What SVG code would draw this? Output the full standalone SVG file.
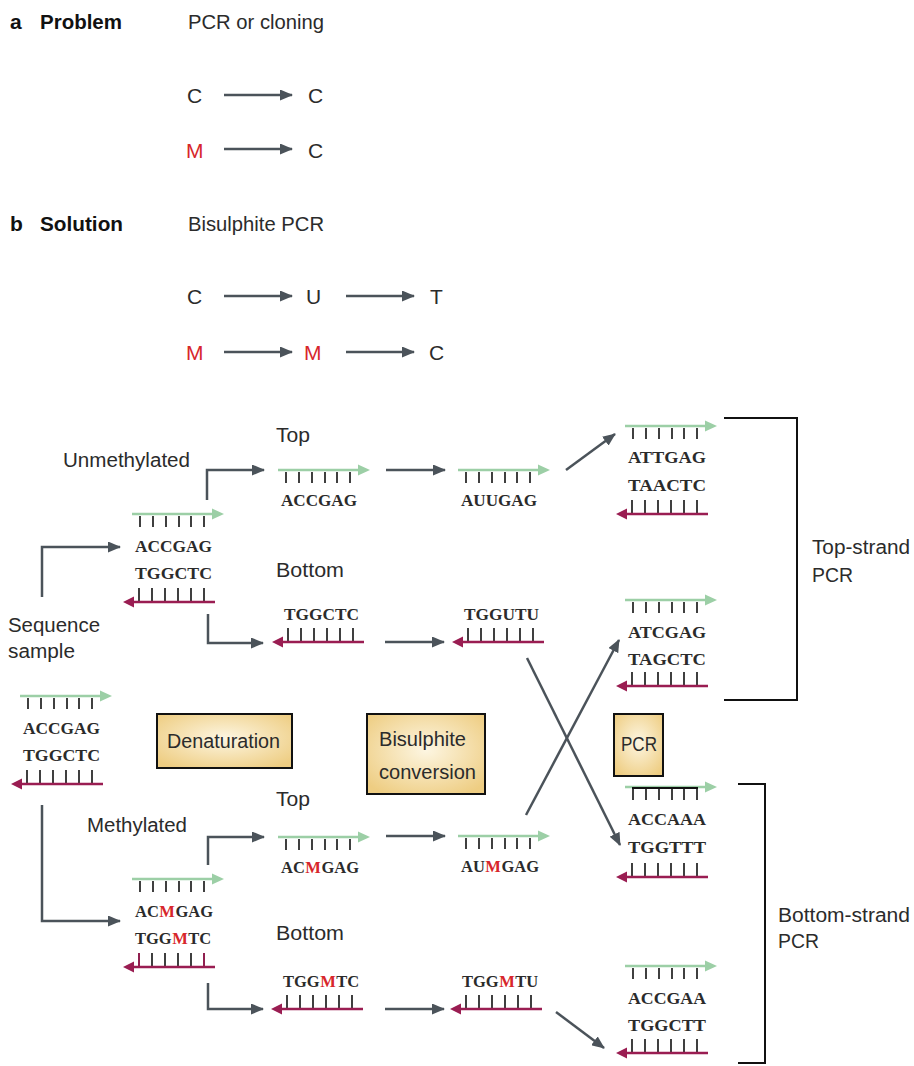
<svg xmlns="http://www.w3.org/2000/svg" xmlns:xlink="http://www.w3.org/1999/xlink" width="914" height="1066" viewBox="0 0 914 1066">
<style>
.lbl{font-family:"Liberation Sans Narrow","Liberation Sans",Arial,sans-serif;font-size:20px;fill:#2b2b2b}
.big{font-size:21px}
.b{font-weight:bold;fill:#111}
.seq{font-family:"Liberation Serif","Times New Roman",serif;font-weight:bold;font-size:17px;fill:#2b2b2b}
.sg{font-size:16.5px}
.m{fill:#d7262b}
.arr{fill:none;stroke:#4b535a;stroke-width:2.5;marker-end:url(#ah)}
.grn{stroke:#9ccfa6;stroke-width:2.5}
.mar{stroke:#9a1d52;stroke-width:2.5}
.tk{stroke:#111;stroke-width:1.6;fill:none}
.box{fill:url(#bg);stroke:#111;stroke-width:2}
.brk{fill:none;stroke:#111;stroke-width:2}
</style>
<defs>
<marker id="ah" markerUnits="userSpaceOnUse" markerWidth="13" markerHeight="11" refX="12" refY="5.5" orient="auto">
<path d="M0,0 L13,5.5 L0,11 z" fill="#4b535a"/>
</marker>
<radialGradient id="bg" cx="50%" cy="45%" r="65%">
<stop offset="0" stop-color="#fdf6e2"/>
<stop offset="1" stop-color="#eecd82"/>
</radialGradient>
<g id="ts">
<line x1="0" y1="0" x2="82" y2="0" class="grn"/>
<polygon points="80,-5.5 92,0 80,5.5" fill="#9ccfa6"/>
<path class="tk" d="M8 2v11M21 2v11M34 2v11M47 2v11M59 2v11M72 2v11"/>
</g>
<g id="bs">
<path class="tk" d="M7 -14v13M20 -14v13M33 -14v13M46 -14v13M59 -14v13M72 -14v13"/>
<line x1="0" y1="0" x2="83" y2="0" class="mar"/>
<polygon points="2,-5.5 -9,0 2,5.5" fill="#9a1d52"/>
</g>
</defs>
<rect width="914" height="1066" fill="#fff"/>

<g id="panel-a">
<text class="lbl big b" x="10" y="29">a</text>
<text class="lbl big b" x="40" y="29" textLength="82" lengthAdjust="spacingAndGlyphs">Problem</text>
<text class="lbl big" x="188" y="29" textLength="136" lengthAdjust="spacingAndGlyphs">PCR or cloning</text>
<text class="lbl big" x="187" y="103">C</text>
<text class="lbl big" x="308" y="103">C</text>
<text class="lbl big m" x="186" y="158">M</text>
<text class="lbl big" x="308" y="158">C</text>
</g>
<g id="panel-b">
<text class="lbl big b" x="10" y="231">b</text>
<text class="lbl big b" x="40" y="231" textLength="83" lengthAdjust="spacingAndGlyphs">Solution</text>
<text class="lbl big" x="188" y="231" textLength="136" lengthAdjust="spacingAndGlyphs">Bisulphite PCR</text>
<text class="lbl big" x="187" y="304">C</text>
<text class="lbl big" x="306" y="304">U</text>
<text class="lbl big" x="430" y="304">T</text>
<text class="lbl big m" x="186" y="360">M</text>
<text class="lbl big m" x="304" y="360">M</text>
<text class="lbl big" x="429" y="360">C</text>
</g>

<g id="connectors">
<line class="arr" x1="224" y1="95" x2="292" y2="95"/>
<line class="arr" x1="224" y1="149" x2="292" y2="149"/>
<line class="arr" x1="224" y1="296" x2="292" y2="296"/>
<line class="arr" x1="346" y1="296" x2="414" y2="296"/>
<line class="arr" x1="224" y1="352" x2="292" y2="352"/>
<line class="arr" x1="346" y1="352" x2="414" y2="352"/>
<path class="arr" d="M42,597 V547 H120"/>
<path class="arr" d="M42,805 V921 H120"/>
<path class="arr" d="M207,500 V470 H264"/>
<path class="arr" d="M208,614 V643 H263"/>
<path class="arr" d="M208,865 V837 H264"/>
<path class="arr" d="M208,983 V1009 H263"/>
<line class="arr" x1="386" y1="470" x2="445" y2="470"/>
<line class="arr" x1="385" y1="642" x2="444" y2="642"/>
<line class="arr" x1="386" y1="836" x2="445" y2="836"/>
<line class="arr" x1="385" y1="1009" x2="444" y2="1009"/>
<line class="arr" x1="566" y1="470" x2="615" y2="434"/>
<line class="arr" x1="527" y1="658" x2="620" y2="845"/>
<line class="arr" x1="526" y1="815" x2="619" y2="640"/>
<line class="arr" x1="556" y1="1012" x2="604" y2="1048"/>
</g>

<g id="sample">
<use xlink:href="#ts" href="#ts" x="20" y="696"/>
<text class="seq" x="23" y="734" textLength="77" lengthAdjust="spacingAndGlyphs">ACCGAG</text>
<text class="seq" x="23" y="761" textLength="77" lengthAdjust="spacingAndGlyphs">TGGCTC</text>
<use xlink:href="#bs" href="#bs" x="20" y="784"/>
<text class="lbl" x="8" y="632" textLength="92" lengthAdjust="spacingAndGlyphs">Sequence</text>
<text class="lbl" x="8" y="658" textLength="67" lengthAdjust="spacingAndGlyphs">sample</text>
</g>

<g id="unmethylated">
<text class="lbl" x="63" y="467" textLength="127" lengthAdjust="spacingAndGlyphs">Unmethylated</text>
<use xlink:href="#ts" href="#ts" x="132" y="514"/>
<text class="seq" x="135" y="552" textLength="77" lengthAdjust="spacingAndGlyphs">ACCGAG</text>
<text class="seq" x="135" y="579" textLength="77" lengthAdjust="spacingAndGlyphs">TGGCTC</text>
<use xlink:href="#bs" href="#bs" x="132" y="602"/>
</g>

<g id="methylated">
<text class="lbl" x="87" y="832" textLength="100" lengthAdjust="spacingAndGlyphs">Methylated</text>
<use xlink:href="#ts" href="#ts" x="132" y="879"/>
<text class="seq sg" x="135" y="917">AC</text>
<text class="seq sg m" x="159.3" y="917">M</text>
<text class="seq sg" x="175.4" y="917">GAG</text>
<text class="seq sg" x="135" y="944">TGG</text>
<text class="seq sg m" x="172.2" y="944">M</text>
<text class="seq sg" x="188.3" y="944">TC</text>
<use xlink:href="#bs" href="#bs" x="132" y="967"/>
<path d="M139 953v13M204 953v13" stroke="#9a1d52" stroke-width="1.8"/>
</g>

<g id="unmeth-top">
<text class="lbl" x="276" y="442" textLength="34" lengthAdjust="spacingAndGlyphs">Top</text>
<use xlink:href="#ts" href="#ts" x="278" y="470"/>
<text class="seq" x="281" y="506" textLength="76" lengthAdjust="spacingAndGlyphs">ACCGAG</text>
</g>
<g id="unmeth-top-conv">
<use xlink:href="#ts" href="#ts" x="458" y="470"/>
<text class="seq" x="461" y="506" textLength="76" lengthAdjust="spacingAndGlyphs">AUUGAG</text>
</g>
<g id="unmeth-bottom">
<text class="lbl" x="276" y="577" textLength="68" lengthAdjust="spacingAndGlyphs">Bottom</text>
<text class="seq" x="284" y="620" textLength="75" lengthAdjust="spacingAndGlyphs">TGGCTC</text>
<use xlink:href="#bs" href="#bs" x="281" y="642"/>
</g>
<g id="unmeth-bottom-conv">
<text class="seq" x="464" y="620" textLength="75" lengthAdjust="spacingAndGlyphs">TGGUTU</text>
<use xlink:href="#bs" href="#bs" x="461" y="642"/>
</g>

<g id="meth-top">
<text class="lbl" x="276" y="806" textLength="34" lengthAdjust="spacingAndGlyphs">Top</text>
<use xlink:href="#ts" href="#ts" x="278" y="837"/>
<text class="seq sg" x="281" y="873">AC</text>
<text class="seq sg m" x="305.3" y="873">M</text>
<text class="seq sg" x="321.4" y="873">GAG</text>
</g>
<g id="meth-top-conv">
<use xlink:href="#ts" href="#ts" x="458" y="836"/>
<text class="seq sg" x="461" y="872">AU</text>
<text class="seq sg m" x="485.3" y="872">M</text>
<text class="seq sg" x="501.4" y="872">GAG</text>
</g>
<g id="meth-bottom">
<text class="lbl" x="276" y="940" textLength="68" lengthAdjust="spacingAndGlyphs">Bottom</text>
<text class="seq sg" x="283" y="987">TGG</text>
<text class="seq sg m" x="320.2" y="987">M</text>
<text class="seq sg" x="336.3" y="987">TC</text>
<use xlink:href="#bs" href="#bs" x="280" y="1009"/>
</g>
<g id="meth-bottom-conv">
<text class="seq sg" x="462" y="987">TGG</text>
<text class="seq sg m" x="499.2" y="987">M</text>
<text class="seq sg" x="515.3" y="987">TU</text>
<use xlink:href="#bs" href="#bs" x="459" y="1009"/>
</g>

<g id="pcr-1">
<use xlink:href="#ts" href="#ts" x="625" y="426"/>
<text class="seq" x="628" y="463" textLength="78" lengthAdjust="spacingAndGlyphs">ATTGAG</text>
<text class="seq" x="628" y="491" textLength="78" lengthAdjust="spacingAndGlyphs">TAACTC</text>
<use xlink:href="#bs" href="#bs" x="625" y="514"/>
</g>
<g id="pcr-2">
<use xlink:href="#ts" href="#ts" x="625" y="600"/>
<text class="seq" x="628" y="638" textLength="78" lengthAdjust="spacingAndGlyphs">ATCGAG</text>
<text class="seq" x="628" y="665" textLength="78" lengthAdjust="spacingAndGlyphs">TAGCTC</text>
<use xlink:href="#bs" href="#bs" x="625" y="686"/>
</g>
<g id="pcr-3">
<use xlink:href="#ts" href="#ts" x="625" y="787"/>
<line x1="632" y1="788" x2="698" y2="788" stroke="#111" stroke-width="1.8"/>
<text class="seq" x="628" y="825" textLength="78" lengthAdjust="spacingAndGlyphs">ACCAAA</text>
<text class="seq" x="628" y="853" textLength="78" lengthAdjust="spacingAndGlyphs">TGGTTT</text>
<use xlink:href="#bs" href="#bs" x="625" y="877"/>
</g>
<g id="pcr-4">
<use xlink:href="#ts" href="#ts" x="625" y="966"/>
<text class="seq" x="628" y="1004" textLength="78" lengthAdjust="spacingAndGlyphs">ACCGAA</text>
<text class="seq" x="628" y="1031" textLength="78" lengthAdjust="spacingAndGlyphs">TGGCTT</text>
<use xlink:href="#bs" href="#bs" x="625" y="1053"/>
</g>

<g id="top-strand-pcr">
<path class="brk" d="M724,418 H797 V700 H724"/>
<text class="lbl" x="812" y="554" textLength="98" lengthAdjust="spacingAndGlyphs">Top-strand</text>
<text class="lbl" x="812" y="582" textLength="41" lengthAdjust="spacingAndGlyphs">PCR</text>
</g>
<g id="bottom-strand-pcr">
<path class="brk" d="M738,784 H765 V1063 H738"/>
<text class="lbl" x="778" y="922" textLength="132" lengthAdjust="spacingAndGlyphs">Bottom-strand</text>
<text class="lbl" x="778" y="948" textLength="41" lengthAdjust="spacingAndGlyphs">PCR</text>
</g>

<g id="denaturation">
<rect class="box" x="157" y="714" width="135" height="54"/>
<text class="lbl" x="167" y="748" textLength="113" lengthAdjust="spacingAndGlyphs">Denaturation</text>
</g>
<g id="bisulphite-conversion">
<rect class="box" x="367" y="714" width="118" height="80"/>
<text class="lbl" x="379" y="746" textLength="87" lengthAdjust="spacingAndGlyphs">Bisulphite</text>
<text class="lbl" x="379" y="779" textLength="97" lengthAdjust="spacingAndGlyphs">conversion</text>
</g>
<g id="pcr-box">
<rect class="box" x="614" y="714" width="49" height="62"/>
<text class="lbl" x="621" y="751" textLength="36" lengthAdjust="spacingAndGlyphs">PCR</text>
</g>
</svg>
